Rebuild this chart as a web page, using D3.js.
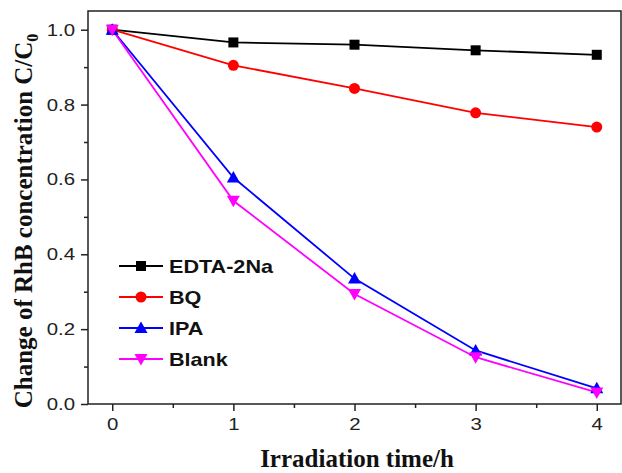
<!DOCTYPE html>
<meta charset="utf-8">
<style>
body { margin: 0; background: #fff; }
.tick text { font-family: "Liberation Sans", Arial, sans-serif; font-size: 17px; fill: #222; }
.axis path, .axis line { stroke: #222; stroke-width: 1.5px; }
.title { font-family: "Liberation Serif", "Times New Roman", serif; font-weight: bold; fill: #111; }
.legend text { font-family: "Liberation Sans", Arial, sans-serif; font-weight: bold; font-size: 18px; fill: #111; }
</style>
<body>
<script src="https://cdn.jsdelivr.net/npm/d3@7"></script>
<script>
var width = 622, height = 473
  , margin = {top: 11, right: 1, bottom: 69, left: 88}
  , stretch = 1.2   // sans labels look wider than plain Arial

// data
var times = [0, 1, 2, 3, 4]
var seriesNames = ["EDTA-2Na", "BQ", "IPA", "Blank"]
var edta = [1.0, 0.966, 0.96, 0.945, 0.933]
var bq = [1.0, 0.905, 0.843, 0.778, 0.74]
var ipa = [1.0, 0.605, 0.335, 0.143, 0.042]
var blank = [1.0, 0.543, 0.294, 0.125, 0.031]
var colors = ["#000000", "#ff0000", "#0000ff", "#ff00ff"]
var symbols = ["square", "circle", "up", "down"]
var xTicks = [0, 1, 2, 3, 4]
var yTicks = [0, 0.2, 0.4, 0.6, 0.8, 1.0]

var series = [edta, bq, ipa, blank].map(function(v, i) {
  return {name: seriesNames[i], color: colors[i], symbol: symbols[i],
          values: v.map(function(y, j) { return {t: times[j], c: y}; })};
});

var svg = d3.select("body").append("svg")
    .attr("width", width).attr("height", height);

var x = d3.scaleLinear().domain([-0.2, 4.2]).range([margin.left, width - margin.right]);
var y = d3.scaleLinear().domain([0, 1.05]).range([height - margin.bottom, margin.top]);

// frame
svg.append("rect")
    .attr("x", margin.left).attr("y", margin.top)
    .attr("width", width - margin.right - margin.left)
    .attr("height", height - margin.bottom - margin.top)
    .attr("fill", "none").attr("stroke", "#222").attr("stroke-width", 1.5);

// minor ticks
svg.append("g").attr("class", "axis")
    .attr("transform", "translate(0," + y(0) + ")")
    .call(d3.axisBottom(x).tickValues([0.5, 1.5, 2.5, 3.5]).tickSize(4).tickFormat(""))
    .call(function(g) { g.select(".domain").remove(); });
svg.append("g").attr("class", "axis")
    .attr("transform", "translate(" + margin.left + ",0)")
    .call(d3.axisLeft(y).tickValues([0.1, 0.3, 0.5, 0.7, 0.9]).tickSize(4).tickFormat(""))
    .call(function(g) { g.select(".domain").remove(); });

svg.append("g").attr("class", "axis")
    .attr("transform", "translate(0," + y(0) + ")")
    .call(d3.axisBottom(x).tickValues(xTicks).tickSize(7).tickPadding(7).tickFormat(d3.format("d")))
    .call(function(g) {
      g.select(".domain").remove();
      g.selectAll(".tick text").attr("transform", "scale(" + stretch + ",1)");
    });
svg.append("g").attr("class", "axis")
    .attr("transform", "translate(" + margin.left + ",0)")
    .call(d3.axisLeft(y).tickValues(yTicks).tickSize(7).tickPadding(6).tickFormat(d3.format(".1f")))
    .call(function(g) {
      g.select(".domain").remove();
      g.selectAll(".tick text").attr("x", -13 / stretch).attr("transform", "scale(" + stretch + ",1)");
    });

// axis titles
svg.append("text").attr("class", "title")
    .attr("x", 357).attr("y", 467)
    .attr("text-anchor", "middle").style("font-size", "25px")
    .text("Irradiation time/h");

var yt = svg.append("text").attr("class", "title")
    .attr("transform", "translate(32,221) rotate(-90)")
    .attr("text-anchor", "middle").style("font-size", "25px");
yt.append("tspan").text("Change of RhB concentration C/C");
yt.append("tspan").attr("dy", 6).style("font-size", "16px").text("0");

function marker(g, sym, color) {
  if (sym === "square") {
    g.append("rect").attr("x", -5).attr("y", -5).attr("width", 10).attr("height", 10).attr("fill", color);
  } else if (sym === "circle") {
    g.append("circle").attr("r", 5.5).attr("fill", color);
  } else if (sym === "up") {
    g.append("path").attr("d", "M0,-6.5L6.5,5L-6.5,5Z").attr("fill", color);
  } else {
    g.append("path").attr("d", "M0,6.5L6.5,-5L-6.5,-5Z").attr("fill", color);
  }
}

var line = d3.line().x(function(d) { return x(d.t); }).y(function(d) { return y(d.c); });

series.forEach(function(s) {
  svg.append("path").datum(s.values)
      .attr("d", line).attr("fill", "none")
      .attr("stroke", s.color).attr("stroke-width", 1.8);
});
series.forEach(function(s) {
  s.values.forEach(function(d) {
    marker(svg.append("g").attr("transform", "translate(" + x(d.t) + "," + y(d.c) + ")"), s.symbol, s.color);
  });
});

// legend
var leg = svg.append("g").attr("class", "legend");
series.forEach(function(s, i) {
  var ly = 266 + i * 31;
  var g = leg.append("g").attr("transform", "translate(0," + ly + ")");
  g.append("line").attr("x1", 119).attr("x2", 163).attr("stroke", s.color).attr("stroke-width", 1.8);
  marker(g.append("g").attr("transform", "translate(141,0)"), s.symbol, s.color);
  g.append("text").attr("transform", "translate(169,6.5) scale(" + stretch + ",1)").text(s.name);
});
</script>
</body>
